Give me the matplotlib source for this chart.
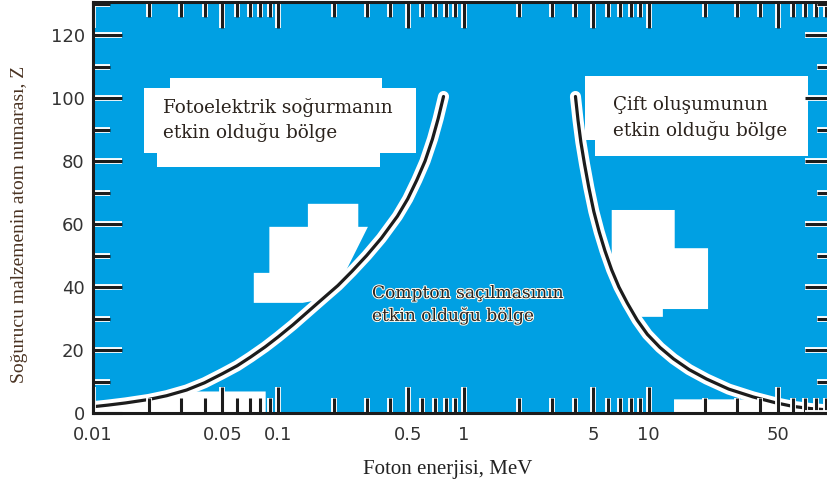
import matplotlib
matplotlib.use("Agg")
import matplotlib.pyplot as plt
import matplotlib.patheffects as pe
from matplotlib.ticker import FixedLocator, NullFormatter
import numpy as np

# Fotoelektrik / Compton sınırı (MeV, Z)
energy_pe = [0.010, 0.012, 0.015, 0.020, 0.025, 0.032, 0.040, 0.050, 0.060,
             0.071, 0.085, 0.100, 0.120, 0.150, 0.170, 0.210, 0.250, 0.300,
             0.360, 0.440, 0.500, 0.560, 0.620, 0.680, 0.730, 0.780]
z_pe = [2.0, 2.5, 3.2, 4.3, 5.5, 7.3, 9.6, 12.5, 15.0,
        17.8, 21.0, 24.2, 28.0, 33.0, 35.8, 40.5, 45.0, 50.0,
        55.5, 62.5, 68.0, 74.0, 80.0, 87.0, 93.5, 100.5]

# Compton / çift oluşumu sınırı
energy_pp = [4.02, 4.15, 4.30, 4.50, 4.75, 5.05, 5.40, 5.80, 6.30, 6.90, 7.66,
             8.66, 9.82, 11.5, 13.6, 16.5, 20.5, 27.0, 36.6, 48.0, 60.1, 75.0, 92.0]
z_pp = [100.5, 93.0, 86.0, 79.0, 71.5, 64.0, 57.5, 51.5, 45.5, 40.0, 34.9,
        29.5, 25.0, 20.8, 17.2, 13.8, 10.8, 7.6, 5.1, 3.3, 2.1, 1.4, 1.0]

x_major = [0.01, 0.05, 0.1, 0.5, 1, 5, 10, 50]
x_labels = ["0.01", "0.05", "0.1", "0.5", "1", "5", "10", "50"]
x_minor = [0.02, 0.03, 0.04, 0.06, 0.07, 0.08, 0.09,
           0.2, 0.3, 0.4, 0.6, 0.7, 0.8, 0.9,
           2, 3, 4, 6, 7, 8, 9,
           20, 30, 40, 60, 70, 80, 90]
z_major = [0, 20, 40, 60, 80, 100, 120]
z_minor = [10, 30, 50, 70, 90, 110, 130]

BLUE = "#00a0e3"
INK = "#1c1c1c"
TEXT = "#2a221c"

fig = plt.figure(figsize=(8.28, 4.9), dpi=100)
ax = fig.add_axes([0.1123, 0.1571, 0.895, 0.8388])
ax.set_facecolor(BLUE)
ax.set_xscale("log")
ax.set_xlim(0.01, 100)
ax.set_ylim(0, 130.5)

# white patches behind / beside the region labels (axes fraction)
patches = [
    ([0.104, 0.390, 0.390, 0.436, 0.436, 0.387, 0.387, 0.086, 0.086, 0.069, 0.069, 0.104],
     [0.815, 0.815, 0.791, 0.791, 0.633, 0.633, 0.599, 0.599, 0.633, 0.633, 0.791, 0.791]),
    ([0.290, 0.358, 0.358, 0.371, 0.340, 0.304, 0.283, 0.217, 0.217, 0.238, 0.238, 0.290],
     [0.509, 0.509, 0.453, 0.453, 0.341, 0.275, 0.268, 0.268, 0.341, 0.341, 0.453, 0.453]),
    ([0.664, 0.965, 0.965, 0.677, 0.677, 0.664],
     [0.820, 0.820, 0.625, 0.625, 0.664, 0.664]),
    ([0.700, 0.785, 0.785, 0.830, 0.830, 0.769, 0.769, 0.729, 0.711, 0.700],
     [0.494, 0.494, 0.401, 0.401, 0.253, 0.253, 0.234, 0.234, 0.299, 0.360]),
]
for xs, ys in patches:
    ax.fill(xs, ys, color="white", lw=0, transform=ax.transAxes, zorder=1.0)

# pale strip under the curves where they run into the tick zone
e_pe = np.array(energy_pe)
e_pp = np.array(energy_pp)
ax.fill_between(e_pe, 0, np.minimum(z_pe, 7), where=e_pe <= 0.085,
                color="white", lw=0, zorder=1.0)
ax.fill_between(e_pp, 0, np.minimum(z_pp, 4.5), where=e_pp >= 13.6,
                color="white", lw=0, zorder=1.0)

halo = [pe.Stroke(linewidth=8, foreground="white"), pe.Normal()]
for e, z in [(energy_pe, z_pe), (energy_pp, z_pp)]:
    ax.plot(e, z, color=INK, lw=2.3, solid_capstyle="round",
            solid_joinstyle="round", path_effects=halo, zorder=1.2)

# ticks
ax.xaxis.set_major_locator(FixedLocator(x_major))
ax.set_xticklabels(x_labels)
ax.xaxis.set_minor_locator(FixedLocator(x_minor))
ax.xaxis.set_minor_formatter(NullFormatter())
ax.yaxis.set_major_locator(FixedLocator(z_major))
ax.yaxis.set_minor_locator(FixedLocator(z_minor))
ax.yaxis.set_minor_formatter(NullFormatter())

ax.tick_params(which="both", direction="in", top=True, right=True,
               color=INK, width=2.2, labelcolor="#333333", labelsize=13)
ax.tick_params(axis="x", which="major", length=19, pad=9)
ax.tick_params(axis="x", which="minor", length=11)
ax.tick_params(axis="y", which="major", length=21, pad=6)
ax.tick_params(axis="y", which="minor", length=12)

tick_halo = [pe.Stroke(linewidth=4.2, foreground="white"), pe.Normal()]
for axis in (ax.xaxis, ax.yaxis):
    for t in axis.get_major_ticks() + axis.get_minor_ticks():
        t.tick1line.set_path_effects(tick_halo)
        t.tick2line.set_path_effects(tick_halo)

for s in ax.spines.values():
    s.set_linewidth(2.2)
    s.set_color(INK)

# region labels
region_font = dict(family="DejaVu Serif", color=TEXT, linespacing=1.45,
                   va="center", ha="left", zorder=3)
ax.text(0.0945, 0.713, "Fotoelektrik soğurmanın\netkin olduğu bölge",
        transform=ax.transAxes, fontsize=13.2, **region_font)
ax.text(0.702, 0.717, "Çift oluşumunun\netkin olduğu bölge",
        transform=ax.transAxes, fontsize=13.2, **region_font)
ax.text(0.3765, 0.263, "Compton saçılmasının\netkin olduğu bölge",
        transform=ax.transAxes, fontsize=12.3,
        path_effects=[pe.withStroke(linewidth=1.5, foreground="#fff8ec")],
        **region_font)

fig.text(0.541, 0.041, "Foton enerjisi, MeV", family="Liberation Serif",
         fontsize=15, color="#222222", ha="center", va="center")
fig.text(0.024, 0.543, "Soğurucu malzemenin atom numarası, Z",
         family="Liberation Serif", fontsize=14, color="#4a3322",
         rotation=90, ha="center", va="center")

fig.savefig("out.png", dpi=100)
